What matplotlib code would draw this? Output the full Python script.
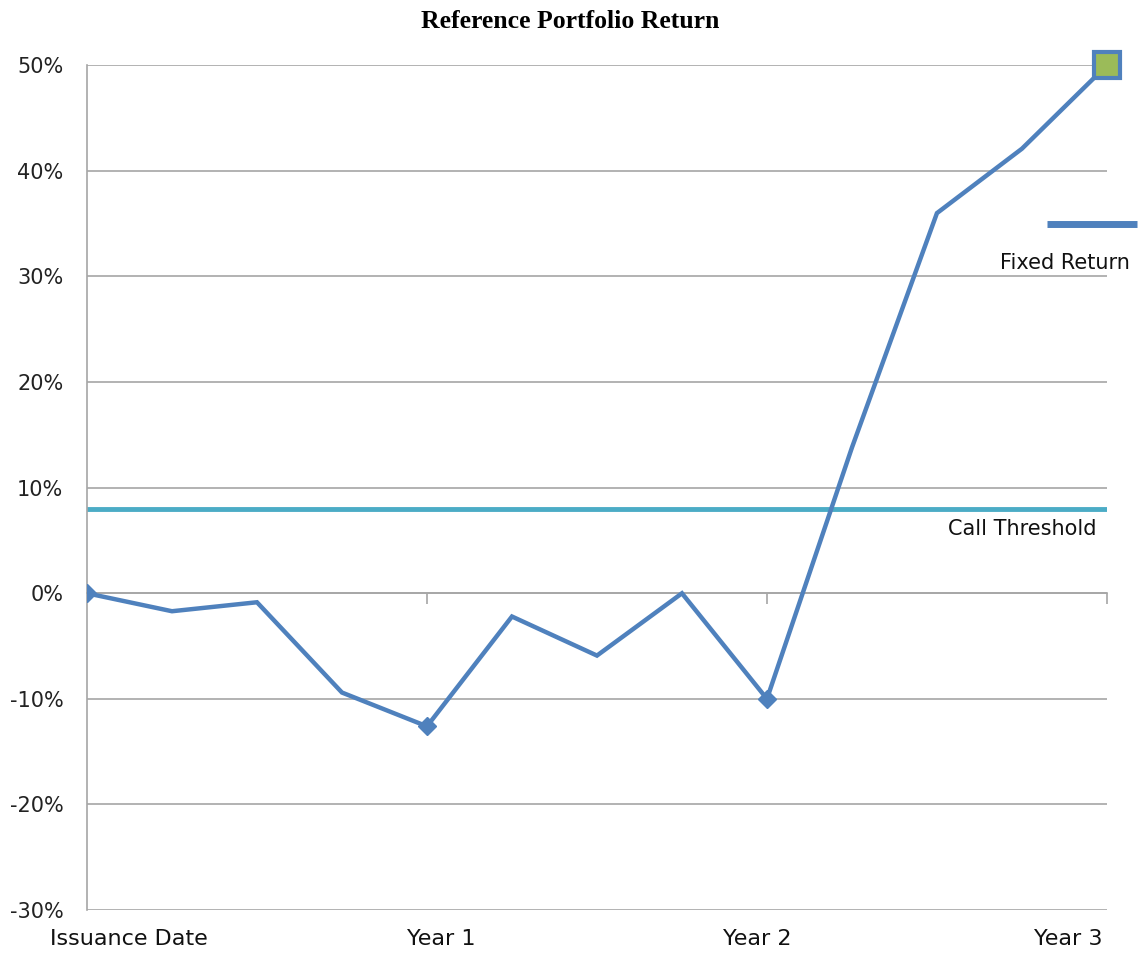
import matplotlib.pyplot as plt
from matplotlib.ticker import PercentFormatter

plt.rcParams['axes.unicode_minus'] = False

# reference portfolio return, one point per quarter (%)
periods = list(range(13))
returns = [0, -1.7, -0.85, -9.4, -12.6, -2.2, -5.9, 0, -10.0, 13.8, 36.0, 42.1, 50.0]
diamond_idx = [0, 4, 8]
call_threshold = 8.0
fixed_return = 35.0
x_labels = ['Issuance Date', 'Year 1', 'Year 2', 'Year 3']
y_ticks = [-30, -20, -10, 0, 10, 20, 30, 40, 50]

blue = '#4F81BD'
teal = '#4BACC6'
grid_c = '#A6A6A6'

fig = plt.figure(figsize=(11.4, 9.6), dpi=100)
ax = fig.add_axes([0.0763, 0.052, 0.8947, 0.880])

ax.set_xlim(0, 12)
ax.set_ylim(-30, 50)
ax.set_yticks(y_ticks)
ax.yaxis.set_major_formatter(PercentFormatter(decimals=0))
ax.tick_params(axis='y', length=0, pad=17, labelsize=15, labelcolor='#222222')
ax.grid(axis='y', color=grid_c, linewidth=1.2)
ax.set_axisbelow(True)

for s in ['top', 'right']:
    ax.spines[s].set_visible(False)
ax.spines['left'].set_color(grid_c)
ax.spines['left'].set_linewidth(1.2)
ax.spines['bottom'].set_position(('data', 0))
ax.spines['bottom'].set_color(grid_c)
ax.spines['bottom'].set_linewidth(1.2)
ax.set_xticks([4, 8, 12])
ax.set_xticklabels([])
ax.tick_params(axis='x', length=8, width=1.2, color=grid_c, direction='out')

# threshold line
ax.axhline(call_threshold, color=teal, linewidth=3.5, zorder=2)
ax.text(11.88, call_threshold - 1.0, 'Call Threshold', ha='right', va='top', fontsize=15,
        color='#111111')

# main series
ax.plot(periods, returns, color=blue, linewidth=3.2, zorder=3, solid_joinstyle='miter')
ax.plot([periods[i] for i in diamond_idx], [returns[i] for i in diamond_idx],
        linestyle='none', marker='D', markersize=9, color=blue, zorder=4)
ax.plot(periods[-1], returns[-1], marker='s', markersize=19, markerfacecolor='#9BBB59',
        markeredgecolor=blue, markeredgewidth=3, zorder=5, clip_on=False)

# fixed return marker
ax.plot([11.29, 12.35], [fixed_return, fixed_return], color=blue, linewidth=5,
        clip_on=False, zorder=4, solid_capstyle='butt')
ax.text(12.27, fixed_return - 2.8, 'Fixed Return', ha='right', va='top', fontsize=15,
        color='#111111')

# category labels below the plot
label_x = [0.49, 4.17, 7.88, 11.54]
for lx, lab in zip(label_x, x_labels):
    ax.text(lx, -31.8, lab, ha='center', va='top', fontsize=16, color='#111111')

fig.suptitle('Reference Portfolio Return', y=0.99, fontsize=18.5, fontweight='bold',
             family='Liberation Serif')

fig.savefig('out.png', dpi=100)
